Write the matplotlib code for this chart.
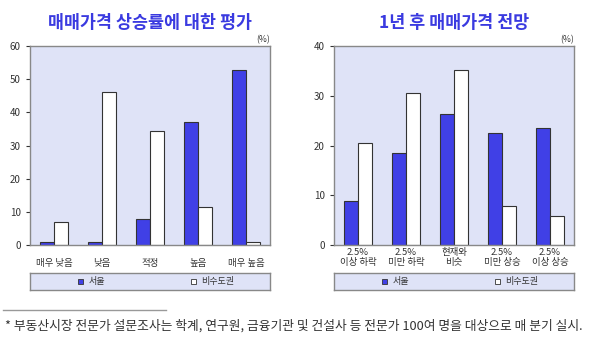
import numpy as np
import matplotlib
matplotlib.use('Agg')
import matplotlib.pyplot as plt
from matplotlib.patches import Rectangle

plt.rcParams['font.family'] = ['Noto Sans CJK KR', 'DejaVu Sans']

# Data
left_cats = ['매우 낮음', '낮음', '적정', '높음', '매우 높음']
left_seoul = [0.8, 0.8, 7.8, 37.2, 52.8]
left_region = [6.8, 46.0, 34.3, 11.6, 0.8]

right_cats = ['2.5%\n이상 하락', '2.5%\n미만 하락', '현재와\n비슷', '2.5%\n미만 상승', '2.5%\n이상 상승']
right_seoul = [8.8, 18.5, 26.4, 22.5, 23.5]
right_region = [20.6, 30.5, 35.2, 7.8, 5.9]

series_names = ['서울', '비수도권']
titles = ['매매가격 상승률에 대한 평가', '1년 후 매매가격 전망']
note = '* 부동산시장 전문가 설문조사는 학계, 연구원, 금융기관 및 건설사 등 전문가 100여 명을 대상으로 매 분기 실시.'

BLUE = '#4040E6'
BG = '#DFE3F7'
EDGE = '#333333'
GRAY = '#888888'
TITLE_C = '#3A3AE0'

fig = plt.figure(figsize=(6, 3.42), dpi=100)


def draw_panel(left, cats, seoul, region, ymax, title, pad):
    ax = fig.add_axes([left, 0.2836, 0.4, 0.5819])
    ax.set_facecolor(BG)
    x = np.arange(len(cats))
    w = 0.29
    ax.bar(x - w / 2, seoul, w, color=BLUE, edgecolor=EDGE, linewidth=0.8)
    ax.bar(x + w / 2, region, w, color='white', edgecolor=EDGE, linewidth=0.8)
    ax.set_xlim(-0.5, len(cats) - 0.5)
    ax.set_ylim(0, ymax)
    ax.set_yticks(np.arange(0, ymax + 1, 10))
    ax.set_xticks(x)
    ax.set_xticklabels(cats, fontsize=6.8, color='#333333', linespacing=1.15)
    ax.tick_params(axis='x', length=0, pad=pad)
    ax.tick_params(axis='y', labelsize=7, colors='#333333', length=3, width=0.8)
    for s in ax.spines.values():
        s.set_color(GRAY)
        s.set_linewidth(1.0)
    ax.text(1.0, 1.01, '(%)', transform=ax.transAxes, ha='right', va='bottom',
            fontsize=6.2, color='#333333')
    ax.set_title(title, fontsize=12.5, fontweight='bold', color=TITLE_C, pad=13)

    # legend box under the panel
    lax = fig.add_axes([left, 0.152, 0.4, 0.05])
    lax.set_facecolor(BG)
    lax.set_xticks([])
    lax.set_yticks([])
    for s in lax.spines.values():
        s.set_color(GRAY)
        s.set_linewidth(1.0)
    lax.add_patch(Rectangle((0.2, 0.36), 0.02, 0.3, facecolor=BLUE,
                            edgecolor=EDGE, linewidth=0.6, transform=lax.transAxes))
    lax.text(0.245, 0.5, series_names[0], transform=lax.transAxes, va='center',
             fontsize=6.5, color='#333333')
    lax.add_patch(Rectangle((0.67, 0.36), 0.02, 0.3, facecolor='white',
                            edgecolor=EDGE, linewidth=0.6, transform=lax.transAxes))
    lax.text(0.715, 0.5, series_names[1], transform=lax.transAxes, va='center',
             fontsize=6.5, color='#333333')
    return ax


draw_panel(0.05, left_cats, left_seoul, left_region, 60, titles[0], 10)
draw_panel(0.5567, right_cats, right_seoul, right_region, 40, titles[1], 2)

# footnote
fig.add_artist(plt.Line2D([0.005, 0.277], [0.093, 0.093], color='#999999', linewidth=1.0))
fig.text(0.008, 0.048, note, fontsize=9.2, color='#333333', va='center')

fig.savefig('out.png', dpi=100)
